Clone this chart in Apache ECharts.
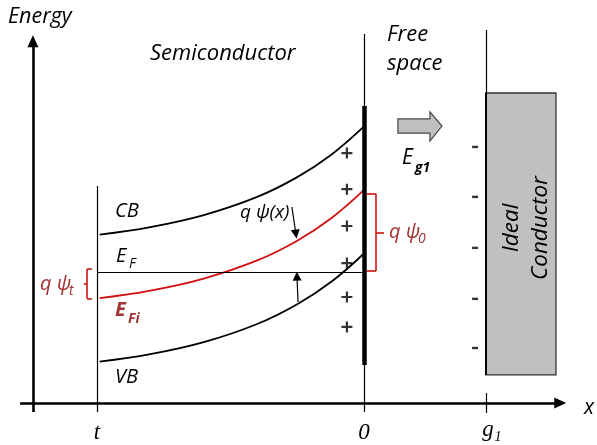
<!DOCTYPE html>
<html><head><meta charset="utf-8">
<script src="https://cdn.jsdelivr.net/npm/echarts@6/dist/echarts.min.js"></script>
<style>html,body{margin:0;padding:0;background:#fff}#c{width:597px;height:445px}</style>
</head><body><div id="c"></div>
<script>
// Position along x (surface at 0, t = -10), energy in same arbitrary units
const bandX = [-9.9, -8, -6, -4, -2.5, -1.2, 0];
const cbE  = [6.31, 6.59, 7.04, 7.72, 8.46, 9.32, 10.36];
const efiE = [3.93, 4.21, 4.66, 5.34, 6.08, 6.94, 7.98];
const vbE  = [1.55, 1.83, 2.28, 2.96, 3.70, 4.56, 5.60];
const efE = 4.91;
const tickValues = [-10, 0, 4.57];
const tickLabels = ['t', '0', 'g1'];
const plusX = -0.64;
const plusE = [9.36, 8.01, 6.63, 5.24, 3.97, 2.85];
const minusX = 4.16;
const minusE = [9.59, 7.72, 5.81, 3.90, 2.06];
const psiXPos = -2.55;

const RED = '#d01010', BROWN = '#a33434';
const F = '"Open Sans", "Lato", sans-serif';

function seg(p1, p2, style, sym, size) {
  return [
    {coord: p1, symbol: 'none', lineStyle: style},
    {coord: p2, symbol: sym || 'none', symbolSize: size || [8, 10]}
  ];
}
const blk = {color: '#000', width: 1.2, type: 'solid'};
const ax = {color: '#000', width: 2.6, type: 'solid'};
const redS = {color: RED, width: 1.6, type: 'solid'};

const lines = [
  seg([-12.40, -0.34], [-12.40, 13.55], ax, 'triangle', [11, 12]),
  seg([-12.88, 0], [7.35, 0], ax, 'triangle', [11, 12]),
  seg([tickValues[0], -0.34], [tickValues[0], 8.13], blk),
  seg([tickValues[1], -0.34], [tickValues[1], 13.82], blk),
  seg([0, 1.42], [0, 11.12], {color: '#000', width: 4.5, type: 'solid'}),
  seg([tickValues[2], -0.37], [tickValues[2], 0.37], blk),
  seg([tickValues[2], 11.61], [tickValues[2], 13.97], blk),
  seg([-10, efE], [0, efE], blk),
  seg([-2.70, 7.34], [psiXPos, 6.33], blk, 'triangle', [9, 9]),
  seg([-2.47, 3.78], [-2.51, 4.75], blk, 'triangle', [9, 9]),
  // right red bracket
  seg([0.11, 7.84], [0.45, 7.84], redS),
  seg([0.45, 7.84], [0.45, 4.94], redS),
  seg([0.11, 4.94], [0.45, 4.94], redS),
  seg([0.45, 6.37], [0.75, 6.37], redS),
  // left red bracket
  seg([-10.19, 5.02], [-10.37, 5.02], redS),
  seg([-10.37, 5.02], [-10.37, 3.90], redS),
  seg([-10.37, 3.90], [-10.19, 3.90], redS),
  seg([-10.37, 4.46], [-10.49, 4.46], redS)
];

function band(name, ys, color) {
  return {
    type: 'line', name, data: bandX.map((x, i) => [x, ys[i]]),
    smooth: 0.4, symbol: 'none', lineStyle: {color, width: 1.8}, z: 3, silent: true
  };
}

const boxData = [[4.57, 1.05, 7.19, 11.61]];
const arrowData = [[1.27, 10.64, 2.47, 10.90, 2.92, 10.37, 9.81, 10.11]];

const T = (text, x, y, font, fill, extra) => Object.assign({type: 'text', z: 100, zlevel: 0,
  style: {text, x, y, font, fill: fill || '#000', textVerticalAlign: 'middle'}}, extra || {});

const serif = '"Liberation Serif", "DejaVu Serif", serif';
const chart = echarts.init(document.getElementById('c'));
chart.setOption({
  animation: false,
  grid: {left: 0, top: 0, width: 597, height: 445, containLabel: false},
  xAxis: {type: 'value', min: -13.633, max: 8.727, show: false},
  yAxis: {type: 'value', min: -1.573, max: 15.094, show: false},
  series: [
    {
      type: 'custom', z: 4, silent: true, data: boxData,
      renderItem: (p, api) => {
        const a = api.coord([api.value(0), api.value(1)]);
        const b = api.coord([api.value(2), api.value(3)]);
        return {type: 'group', children: [
          {type: 'rect', shape: {x: a[0], y: b[1], width: b[0] - a[0], height: a[1] - b[1]},
           style: {fill: '#c0c0c0', stroke: '#333', lineWidth: 1.3}},
          {type: 'line', shape: {x1: a[0], y1: b[1], x2: a[0], y2: a[1]},
           style: {stroke: '#000', lineWidth: 2}}
        ]};
      }
    },
    {
      type: 'custom', z: 4, silent: true, data: arrowData,
      renderItem: (p, api) => {
        const v = i => api.value(i);
        const pts = [[v(0), v(1)], [v(2), v(1)], [v(2), v(3)], [v(4), v(5)], [v(2), v(6)], [v(2), v(7)], [v(0), v(7)]]
          .map(q => api.coord(q));
        return {type: 'polygon', shape: {points: pts}, style: {fill: '#c0c0c0', stroke: '#444', lineWidth: 1.2}};
      }
    },
    band('CB', cbE, '#000'),
    band('EFi', efiE, RED),
    band('VB', vbE, '#000'),
    {
      type: 'line', data: [], silent: true, z: 5,
      markLine: {silent: true, animation: false, symbol: ['none', 'none'], label: {show: false},
                 emphasis: {disabled: true}, data: lines}
    },
    {
      type: 'scatter', silent: true, z: 6, data: plusE.map(e => [plusX, e]),
      symbol: 'path://M4,0h2v4h4v2h-4v4h-2v-4h-4v-2h4z', symbolSize: 11,
      itemStyle: {color: '#000'}
    },
    {
      type: 'scatter', silent: true, z: 6, data: minusE.map(e => [minusX, e]),
      symbol: 'rect', symbolSize: [6, 2.4], itemStyle: {color: '#000'}
    },
    {
      type: 'custom', silent: true, z: 6, data: tickValues.map((x, i) => [x, -1.2, i]),
      renderItem: (p, api) => {
        const c = api.coord([api.value(0), api.value(1)]);
        const lab = tickLabels[api.value(2)];
        if (lab === 'g1') {
          return {type: 'group', children: [
            {type: 'text', style: {text: 'g', x: c[0] + 2, y: c[1] - 5, font: 'italic 23px ' + serif, fill: '#000', textAlign: 'center', textVerticalAlign: 'middle'}},
            {type: 'text', style: {text: '1', x: c[0] + 12, y: c[1] + 2, font: 'italic 14px ' + serif, fill: '#000', textAlign: 'center', textVerticalAlign: 'middle'}}
          ]};
        }
        return {type: 'text', style: {text: lab, x: c[0], y: c[1] - 2, font: 'italic 23px ' + serif, fill: '#000', textAlign: 'center', textVerticalAlign: 'middle'}};
      }
    }
  ],
  graphic: [
    T('Energy', 8, 17, 'italic 21.5px ' + F),
    T('Semiconductor', 150, 54, 'italic 22px ' + F),
    T('Free', 387, 35, 'italic 22px ' + F),
    T('space', 387, 64, 'italic 22px ' + F),
    T('E', 402, 158, 'italic 21px ' + F),
    T('g1', 415, 168, 'italic bold 14px ' + F),
    T('CB', 115, 211, 'italic 20px ' + F),
    T('E', 116, 256, 'italic 20px ' + F),
    T('F', 129, 264, 'italic 14px ' + F),
    T('E', 115, 310, 'italic bold 20px ' + F, BROWN),
    T('Fi', 128, 319, 'italic bold 14px ' + F, BROWN),
    T('VB', 115, 377, 'italic 20px ' + F),
    T('q ψ(x)', 240, 213, 'italic 19px ' + F),
    T('q ψ', 389, 232, 'italic 20px ' + F, BROWN),
    T('0', 418, 239, 'italic 14px ' + F, BROWN),
    T('q ψ', 40, 284, 'italic 20px ' + F, BROWN),
    T('t', 69, 291, 'italic 14px ' + F, BROWN),
    {type: 'text', z: 100, x: 512, y: 228, rotation: Math.PI / 2,
     style: {text: 'Ideal', x: 0, y: 0, font: 'italic 22.5px ' + F, fill: '#000', textAlign: 'center', textVerticalAlign: 'middle'}},
    {type: 'text', z: 100, x: 541, y: 228, rotation: Math.PI / 2,
     style: {text: 'Conductor', x: 0, y: 0, font: 'italic 22.5px ' + F, fill: '#000', textAlign: 'center', textVerticalAlign: 'middle'}},
    T('x', 584, 408, 'italic 21px ' + F)
  ]
});
</script></body></html>
